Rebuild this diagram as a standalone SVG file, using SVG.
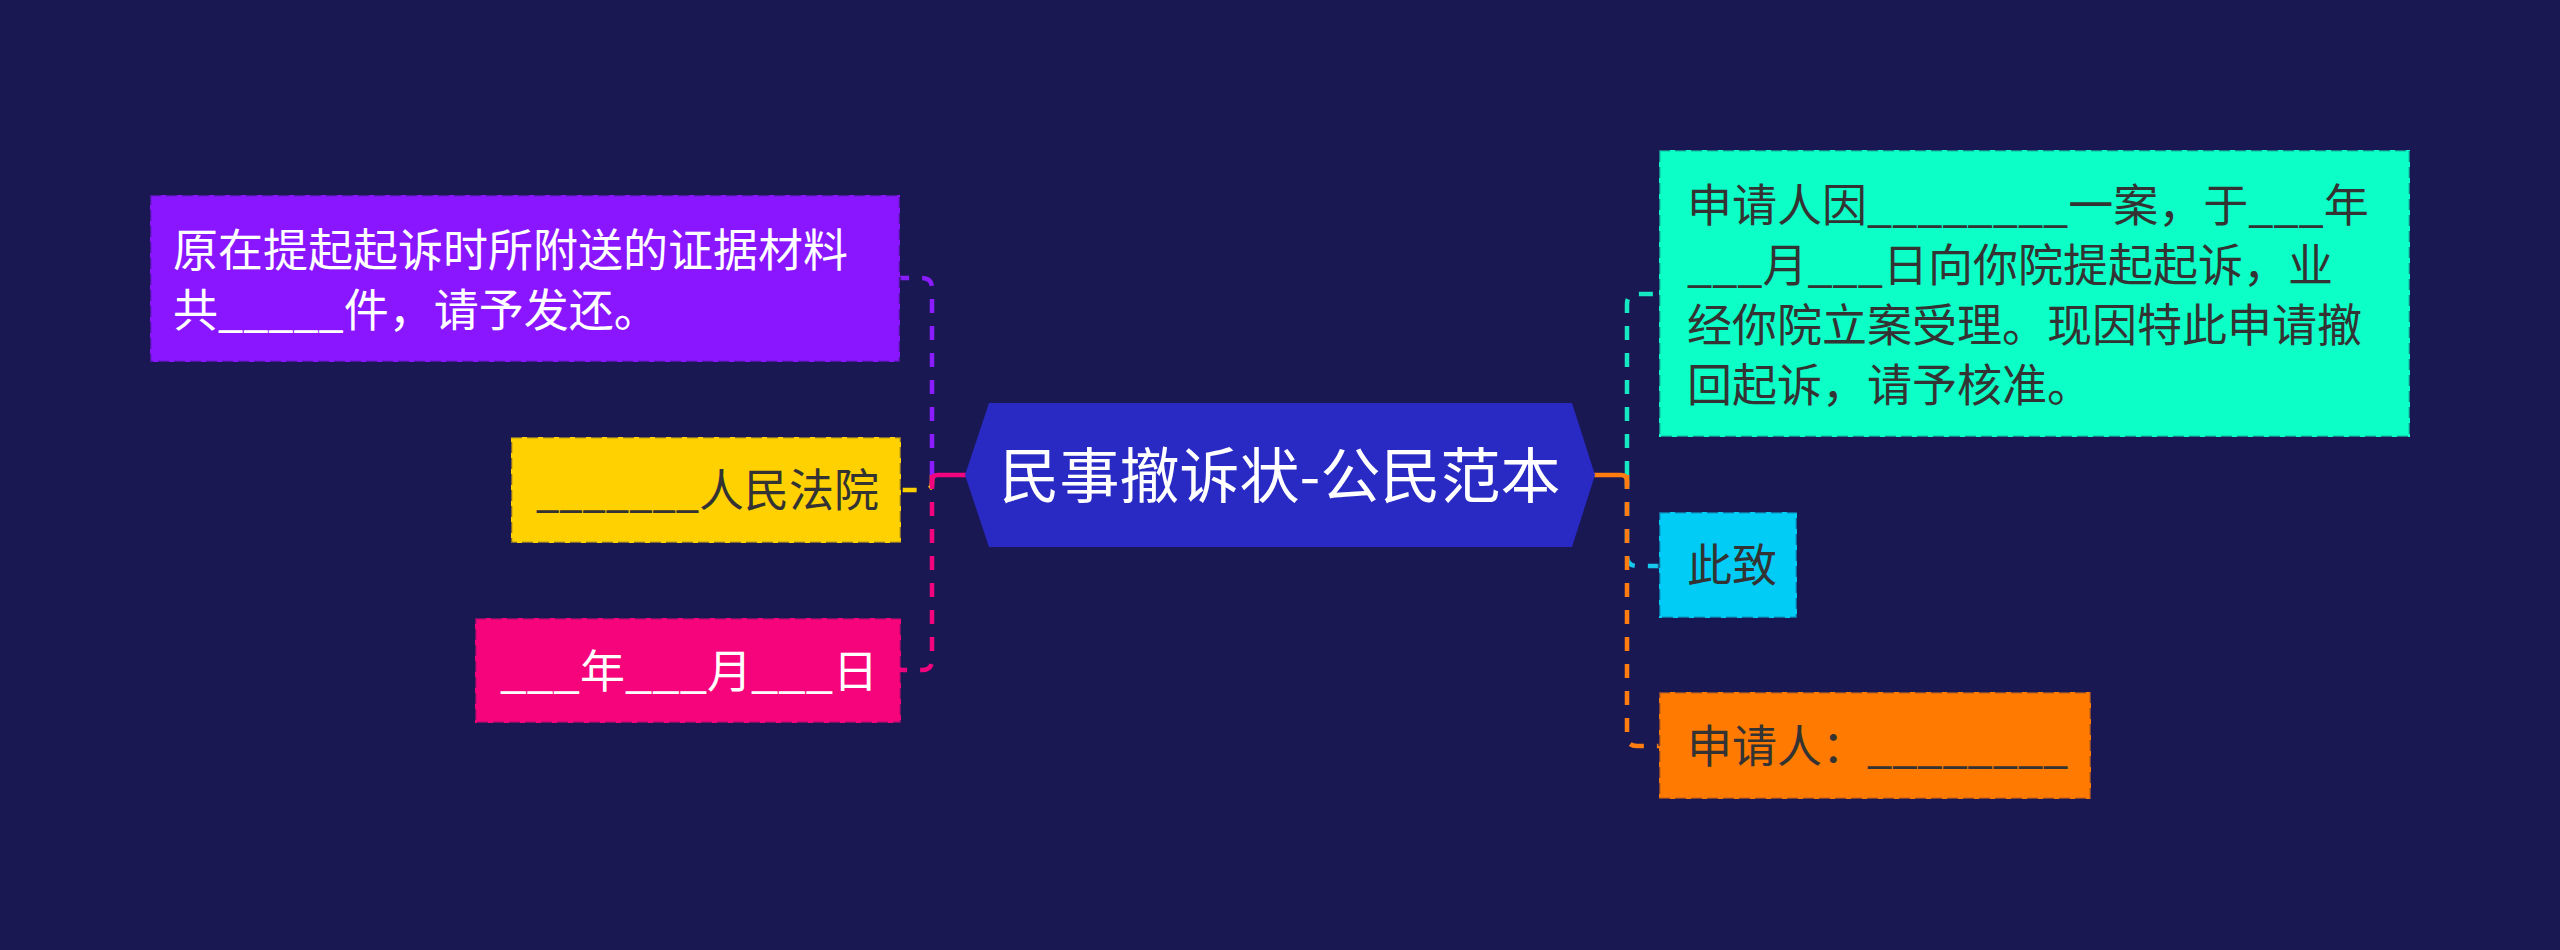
<svg xmlns="http://www.w3.org/2000/svg" width="2560" height="950" viewBox="0 0 2560 950">
<style>
.t{font-family:"Noto Sans CJK SC","Noto Sans",sans-serif;font-size:45px;}
.w{fill:#ffffff;}
.d{fill:#333333;}
.box{stroke:#1b1952;stroke-opacity:0.55;stroke-width:2.5;stroke-dasharray:11 5;}
.c{fill:none;stroke-width:4.5;stroke-dasharray:14 13;}
.s{fill:none;stroke-width:4.5;}
</style>
<rect x="0" y="0" width="2560" height="950" fill="#1a1852"/>
<g id="connectors">
<path class="c" stroke="#8a1cff" d="M932 475 V288 Q932 278 922 278 H900"/>
<path class="c" stroke="#ffd000" d="M932 475 V482 Q932 490 924 490 H900"/>
<path class="c" stroke="#f2047e" d="M932 475 V660 Q932 670 922 670 H900"/>
<path class="s" stroke="#f2047e" d="M966 475 H938 Q932 475 932 481 V486"/>
<path class="c" stroke="#17e8c4" d="M1627 475 V304 Q1627 294 1637 294 H1659"/>
<path class="c" stroke="#17c8ee" d="M1627 475 V556 Q1627 566 1637 566 H1659"/>
<path class="c" stroke="#ff7c10" d="M1627 475 V736 Q1627 746 1637 746 H1659"/>
<path class="s" stroke="#ff7c10" d="M1594 475 H1621 Q1627 475 1627 481 V486"/>
</g>
<g id="center">
<polygon points="965,475 989,403 1572,403 1595,475 1572,547 989,547" fill="#2929c4"/>
<text class="t w" x="1280" y="498" text-anchor="middle" style="font-size:60px">民事撤诉状-公民范本</text>
</g>
<g id="n-purple">
<rect class="box" x="150" y="195" width="750" height="167" fill="#8a16ff"/>
<text class="t w" x="173" y="267">原在提起起诉时所附送的证据材料</text>
<text class="t w" x="173" y="327">共_____件，请予发还。</text>
</g>
<g id="n-yellow">
<rect class="box" x="511" y="437" width="390" height="106" fill="#ffd100"/>
<text class="t d" x="536" y="507"><tspan textLength="163" lengthAdjust="spacingAndGlyphs">_______</tspan><tspan x="699">人民法院</tspan></text>
</g>
<g id="n-pink">
<rect class="box" x="475" y="618" width="426" height="105" fill="#f5047c"/>
<text class="t w" x="500" y="688"><tspan textLength="80" lengthAdjust="spacingAndGlyphs">___</tspan><tspan x="580">年</tspan><tspan x="625" textLength="82" lengthAdjust="spacingAndGlyphs">___</tspan><tspan x="707">月</tspan><tspan x="751" textLength="82" lengthAdjust="spacingAndGlyphs">___</tspan><tspan x="833">日</tspan></text>
</g>
<g id="n-teal">
<rect class="box" x="1659" y="150" width="751" height="287" fill="#0cffc6"/>
<text class="t d" x="1687" y="222">申请人因________一案，于___年</text>
<text class="t d" x="1687" y="282">___月___日向你院提起起诉，业</text>
<text class="t d" x="1687" y="342">经你院立案受理。现因特此申请撤</text>
<text class="t d" x="1687" y="402">回起诉，请予核准。</text>
</g>
<g id="n-cyan">
<rect class="box" x="1659" y="512" width="138" height="106" fill="#00ccf5"/>
<text class="t d" x="1687" y="582">此致</text>
</g>
<g id="n-orange">
<rect class="box" x="1659" y="692" width="432" height="107" fill="#ff7a00"/>
<text class="t d" x="1687" y="763">申请人：________</text>
</g>
</svg>
